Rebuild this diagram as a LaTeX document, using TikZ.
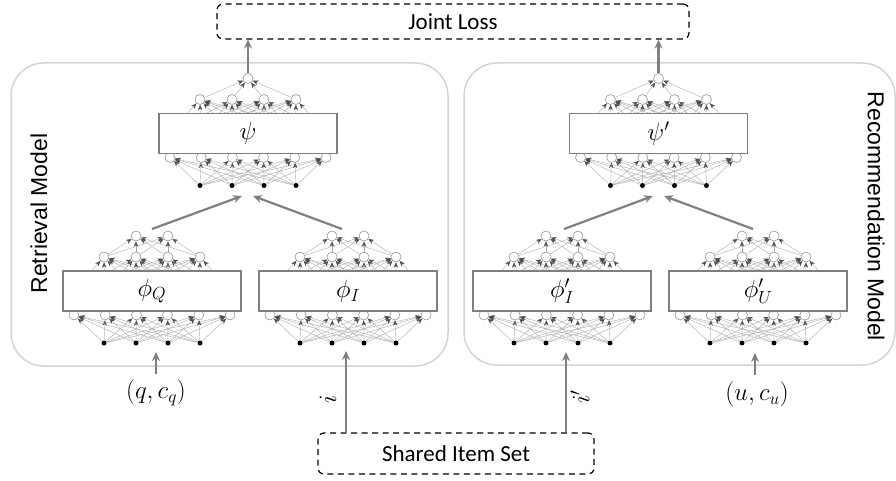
\RequirePackage{fix-cm}
\documentclass[tikz,border=0pt]{standalone}
\usepackage{fontspec}
\setmainfont{Carlito}
\newfontfamily\arialf{Liberation Sans}
\usetikzlibrary{arrows.meta}
\definecolor{panelgray}{HTML}{D4D4D4}
\definecolor{boxgray}{HTML}{7F7F7F}
\definecolor{edgegray}{HTML}{ABABAB}
\definecolor{tipgray}{HTML}{4D4D4D}
\definecolor{circgray}{HTML}{8F8F8F}
\definecolor{arrgray}{HTML}{808080}
\tikzset{
  panel/.style={draw=panelgray, line width=1.5pt, rounded corners=33pt, inner sep=0pt},
  netbox/.style={draw=boxgray, line width=1.3pt, fill=white, minimum width=178pt, minimum height=40pt, inner sep=0pt, font=\fontsize{25}{29}\selectfont},
  ncirc/.style={circle, draw=circgray, line width=0.55pt, fill=white, minimum size=10pt, inner sep=0pt},
  ndot/.style={circle, fill=black, minimum size=5pt, inner sep=0pt},
  nedge/.style={draw=edgegray, line width=0.4pt, -{Stealth[length=5.5pt,width=4.5pt,color=tipgray]}},
  mainarrow/.style={draw=arrgray, line width=2.2pt, -{Stealth[length=9pt,width=8pt]}},
  dashbox/.style={draw=black, line width=1.2pt, dash pattern=on 6pt off 4.5pt, rounded corners=6pt, inner sep=0pt, font=\fontsize{23}{27}\selectfont},
  sidelab/.style={font=\arialf\fontsize{23}{27}\selectfont, inner sep=0pt},
  mathlab/.style={font=\fontsize{25}{29}\selectfont, inner sep=0pt}
}
\newcommand\mynet[5]{%
  \foreach \i in {1,...,6}{
    \coordinate (#1h\i) at ({#2+(\i-3.5)*31.6},{#3});
    \node[ncirc] (#1l\i) at ({#2+(\i-3.5)*31.2},{#3+24}) {};
  }
  \foreach \j in {1,...,4}{
    \node[ndot] (#1d\j) at ({#2+(\j-2.5)*32},{#3+52}) {};
    \node[ncirc] (#1u\j) at ({#2+(\j-2.5)*32},{#3-34}) {};
  }
  \foreach \j in {1,...,4}{
    \foreach \i in {1,...,6}{
      \draw[nedge] (#1d\j) -- (#1l\i);
      \draw[nedge] (#1h\i) -- (#1u\j);
    }
  }
  \foreach \k [count=\c] in {#4}{
    \node[ncirc] (#1t\c) at ({#2+\k},{#3-55}) {};
    \foreach \j in {1,...,4}{ \draw[nedge] (#1u\j) -- (#1t\c); }
  }
  \node[netbox] (#1) at (#2,#3) {#5};
  \coordinate (#1top) at (#2,{#3-62});
}
\begin{document}
\begin{tikzpicture}[x=1pt,y=-1pt]
\useasboundingbox (0,0) rectangle (896,481);
% panels
\node[panel, minimum width=437pt, minimum height=303pt] (retr) at (229.5,214.5) {};
\node[panel, minimum width=431pt, minimum height=302pt] (reco) at (679.5,214) {};
\node[sidelab, rotate=90] (retrlab) at (39,213.5) {Retrieval Model};
\node[sidelab, rotate=-90] (recolab) at (876,216.5) {Recommendation Model};
% dashed boxes
\node[dashbox, minimum width=472pt, minimum height=35pt] (jl) at (453,21.5) {Joint Loss};
\node[dashbox, minimum width=276pt, minimum height=41pt] (sis) at (456,453.5) {Shared Item Set};
% networks
\mynet{psi}{248}{133.5}{0}{$\psi$}
\mynet{psip}{658.5}{133.5}{0}{$\psi'$}
\mynet{phiQ}{152}{291}{-16,16}{$\phi_Q$}
\mynet{phiI}{348}{291}{-16,16}{$\phi_I$}
\mynet{phiIp}{562}{291}{-16,16}{$\phi'_I$}
\mynet{phiU}{758}{291}{-16,16}{$\phi'_U$}
% converging arrows
\coordinate (psiinL) at (242,196);
\coordinate (psiinR) at (253,196);
\coordinate (psipinL) at (653,196);
\coordinate (psipinR) at (664,196);
\draw[mainarrow] (phiQtop) -- (psiinL);
\draw[mainarrow] ([xshift=-6pt]phiItop) -- (psiinR);
\draw[mainarrow] ([xshift=2pt]phiIptop) -- (psipinL);
\draw[mainarrow] ([xshift=-5pt]phiUtop) -- (psipinR);
% to joint loss
\draw[mainarrow] (psit1) -- (psit1 |- jl.south);
\draw[mainarrow] (psipt1) -- (psipt1 |- jl.south);
% inputs
\node[mathlab] (qc) at (156,393) {$(q,c_q)$};
\node[mathlab] (uc) at (757,394) {$(u,c_u)$};
\coordinate (qin) at (156,352);
\coordinate (uin) at (755,353);
\draw[mainarrow] ([yshift=6pt]qc.north) -- (qin);
\draw[mainarrow] ([yshift=6pt]uc.north -| uin) -- (uin);
\coordinate (iin) at (346,351);
\coordinate (ipin) at (566,352);
\draw[mainarrow] (sis.north -| iin) -- (iin);
\draw[mainarrow] (sis.north -| ipin) -- (ipin);
\node[mathlab, rotate=90] (ilab) at (328,399) {$i$};
\node[mathlab, rotate=90] (iplab) at (580,397) {$i'$};
\end{tikzpicture}
\end{document}
